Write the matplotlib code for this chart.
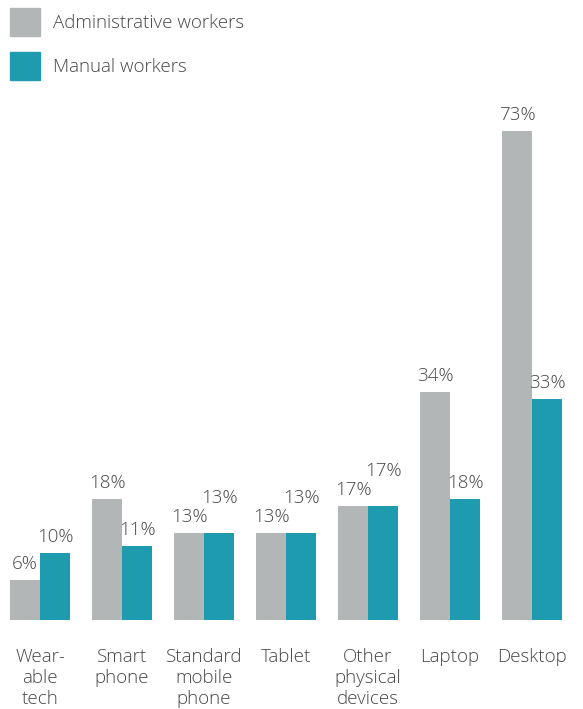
import matplotlib
matplotlib.use('Agg')
import matplotlib.pyplot as plt
import matplotlib.patches as mpatches
import numpy as np

plt.rcParams['font.family'] = ['Open Sans', 'DejaVu Sans']

categories = ['Wear-\nable\ntech', 'Smart\nphone', 'Standard\nmobile\nphone', 'Tablet',
              'Other\nphysical\ndevices', 'Laptop', 'Desktop']
admin = [6, 18, 13, 13, 17, 34, 73]
manual = [10, 11, 13, 13, 17, 18, 33]
series_names = ['Administrative workers', 'Manual workers']

grey = '#b3b6b6'
teal = '#1f9bb0'
txt = '#474747'

W, H = 583, 709
fig = plt.figure(figsize=(W / 100, H / 100), dpi=100)

base_px = 620
ax = fig.add_axes([0, (H - base_px) / H, 1, 536 / H])
ax.set_ylim(0, 80)
ax.set_xlim(-40 / 82, (W - 40) / 82)
ax.axis('off')

x = np.arange(len(categories))
w = 30 / 82
ax.bar(x - w / 2, admin, w, color=grey)
ax.bar(x + w / 2, manual, w, color=teal)

for i in range(len(categories)):
    ax.annotate(f'{admin[i]}%', (x[i] - w / 2, admin[i]), xytext=(0, 5),
                textcoords='offset points', ha='center', va='bottom',
                fontsize=13.5, color=txt, fontweight='light')
    # lift the second label when both bars are the same height
    lift = 19 if manual[i] == admin[i] else 5
    ax.annotate(f'{manual[i]}%', (x[i] + w / 2, manual[i]), xytext=(0, lift),
                textcoords='offset points', ha='center', va='bottom',
                fontsize=13.5, color=txt, fontweight='light')
    ax.annotate(categories[i], (x[i], 0), xytext=(0, -20),
                textcoords='offset points', ha='center', va='top',
                fontsize=13.5, color=txt, fontweight='light', linespacing=1.23,
                annotation_clip=False)

# legend squares
for j, (c, name) in enumerate(zip([grey, teal], series_names)):
    top = 8 + 44 * j
    fig.patches.append(mpatches.Rectangle((10 / W, 1 - (top + 28) / H), 30 / W, 28 / H,
                                          color=c, transform=fig.transFigure))
    fig.text(53 / W, 1 - (top + 15) / H, name, va='center', ha='left',
             fontsize=13.5, color=txt, fontweight='light')

fig.savefig('out.png', dpi=100)
